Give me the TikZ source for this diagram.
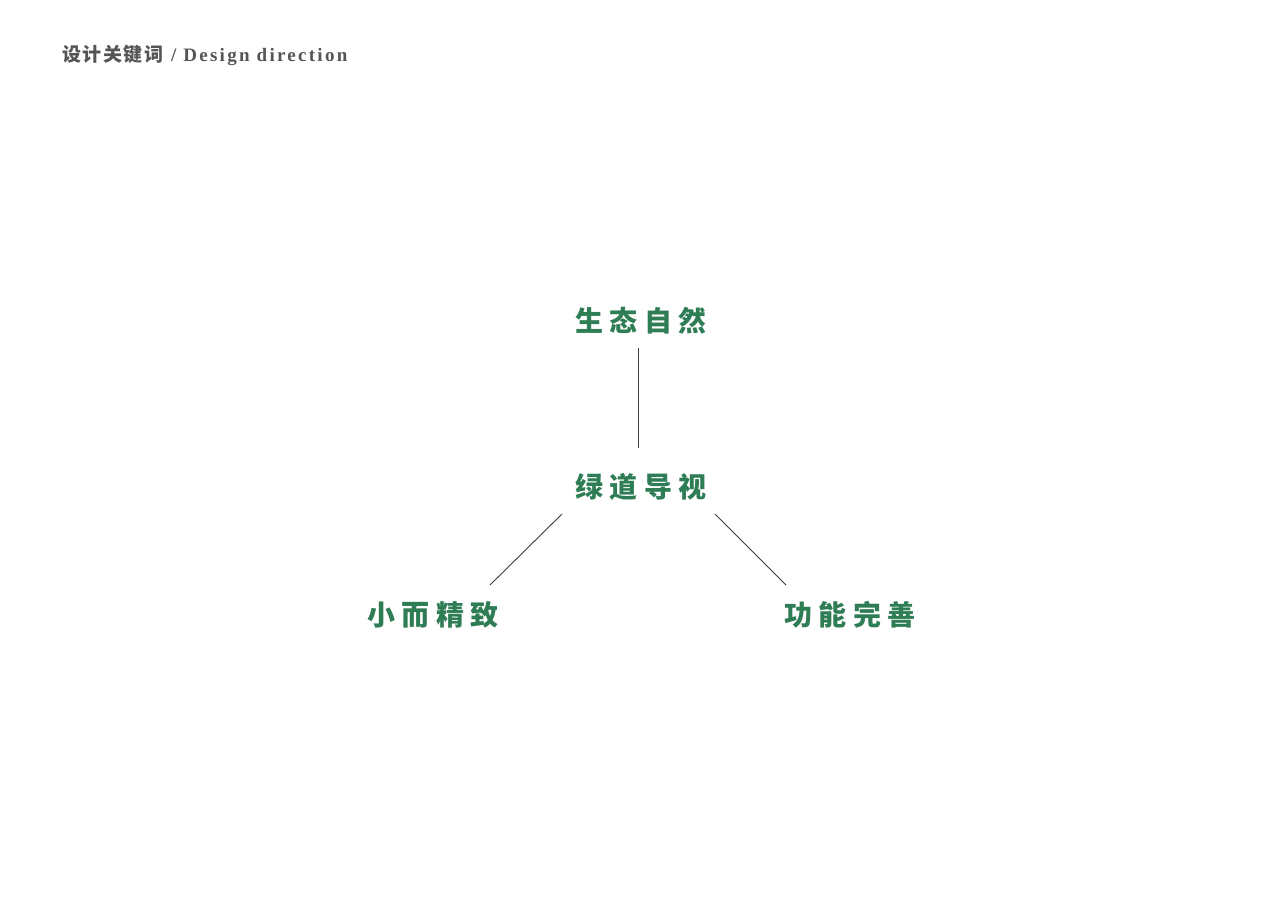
\documentclass[tikz,border=0pt]{standalone}
\usepackage{fontspec}
\setmainfont{Liberation Serif}
\newfontfamily\cjk{Noto Sans CJK SC}
\usepackage{tikz}
\usetikzlibrary{calc}
\definecolor{keygreen}{RGB}{46,125,85}
\definecolor{titlegray}{RGB}{85,85,85}
\definecolor{linkgray}{RGB}{60,60,60}

\begin{document}
\begin{tikzpicture}[x=1pt,y=-1pt,
  keyword/.style={inner sep=0pt, text=keygreen, text height=24.6pt, text depth=3.4pt,
    font=\fontsize{28}{28}\selectfont\cjk\bfseries\addfontfeature{LetterSpace=22}},
  link/.style={draw=linkgray, line width=0.9pt}]
\useasboundingbox[fill=white] (0,0) rectangle (1280,905);
\node[anchor=base west, inner sep=0pt, text=titlegray] (title) at (62,61)
  {\fontsize{19}{19}\selectfont{\cjk\bfseries\addfontfeature{LetterSpace=8}设计关键词}\hspace{3pt} \textbf{\addfontfeature{LetterSpace=12}/ Design direction}};
\node[keyword] (top) at (641,321) {生态自然};
\node[keyword] (hub) at (641,487) {绿道导视};
\node[keyword] (small) at (433,615) {小而精致};
\node[keyword] (full) at (850,615) {功能完善};
%links
\draw[link] ([shift={(-3,27)}]top.center) -- ([shift={(-3,-39)}]hub.center);
\draw[link] ([shift={(-79,27)}]hub.center) -- ([shift={(57,-30)}]small.center);
\draw[link] ([shift={(74,27)}]hub.center) -- ([shift={(-64,-30)}]full.center);
\end{tikzpicture}
\end{document}
